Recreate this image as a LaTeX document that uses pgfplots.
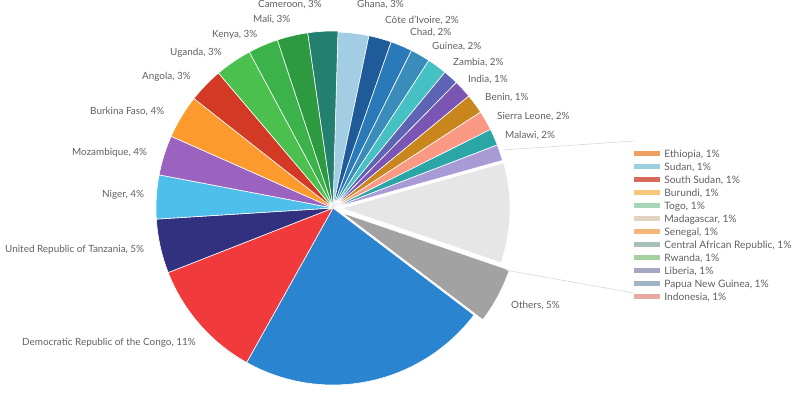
\documentclass[border=0pt]{standalone}
\usepackage{pgfplots}
\pgfplotsset{compat=1.18}
\usepackage{pgfplotstable}
\usepackage{fontspec}
\setmainfont{Lato}

\definecolor{col0}{HTML}{A3CDE2}
\definecolor{col1}{HTML}{1F5A99}
\definecolor{col2}{HTML}{2A7AB9}
\definecolor{col3}{HTML}{3A8DBA}
\definecolor{col4}{HTML}{45C1C3}
\definecolor{col5}{HTML}{5D63B5}
\definecolor{col6}{HTML}{7B55B3}
\definecolor{col7}{HTML}{C8861D}
\definecolor{col8}{HTML}{F99883}
\definecolor{col9}{HTML}{2AA6A6}
\definecolor{col10}{HTML}{A89AD5}
\definecolor{col11}{HTML}{E6E6E6}
\definecolor{col12}{HTML}{A2A2A2}
\definecolor{col13}{HTML}{2B84CF}
\definecolor{col14}{HTML}{F03A3C}
\definecolor{col15}{HTML}{31317F}
\definecolor{col16}{HTML}{4DBFEA}
\definecolor{col17}{HTML}{9B62C0}
\definecolor{col18}{HTML}{FD9A2E}
\definecolor{col19}{HTML}{D33A26}
\definecolor{col20}{HTML}{4BC04E}
\definecolor{col21}{HTML}{3CB34A}
\definecolor{col22}{HTML}{2E9A40}
\definecolor{col23}{HTML}{23806E}

\definecolor{lg0}{HTML}{F0A060}
\definecolor{lg1}{HTML}{9DCFE0}
\definecolor{lg2}{HTML}{D9695A}
\definecolor{lg3}{HTML}{F5C77A}
\definecolor{lg4}{HTML}{A8D4B8}
\definecolor{lg5}{HTML}{E0D4C0}
\definecolor{lg6}{HTML}{F3B878}
\definecolor{lg7}{HTML}{A9C0B9}
\definecolor{lg8}{HTML}{A6D0A0}
\definecolor{lg9}{HTML}{A4A8C4}
\definecolor{lg10}{HTML}{A0B4C4}
\definecolor{lg11}{HTML}{E8A8A4}
\definecolor{labgray}{HTML}{606060}

% share of each slice (percent), explode offset (px), radius (px), clockwise from 12 o'clock
\pgfplotstableread{
val expl rad
2.833 0 176
2.083 0 176
2.000 0 176
1.806 0 176
1.806 0 176
1.389 0 176
1.667 0 176
1.806 0 176
1.806 0 176
1.528 0 176
1.472 0 176
9.611 9 168
5.083 10 177
22.778 0 177
10.944 0 177
4.944 0 177
4.000 0 177
3.639 0 177
3.972 0 177
3.194 0 177
3.361 0 177
2.750 0 177
2.806 0 177
2.722 0 177
}\piedata

\def\PScum{1.6}
\pgfplotsforeachungrouped \i in {0,...,23}{%
  \pgfplotstablegetelem{\i}{val}\of\piedata \let\PSv\pgfplotsretval
  \pgfplotstablegetelem{\i}{expl}\of\piedata \let\PSe\pgfplotsretval
  \pgfplotstablegetelem{\i}{rad}\of\piedata \let\PSrr\pgfplotsretval
  \pgfmathsetmacro\PSa{\PScum}%
  \pgfmathsetmacro\PSd{3.6*\PSv}%
  \pgfmathsetmacro\PSmid{\PSa+\PSd/2}%
  \pgfmathsetmacro\PSx{333+\PSe*sin(\PSmid)}%
  \pgfmathsetmacro\PSy{192+\PSe*cos(\PSmid)}%
  \expandafter\xdef\csname PSa\i\endcsname{\PSa}%
  \expandafter\xdef\csname PSd\i\endcsname{\PSd}%
  \expandafter\xdef\csname PSx\i\endcsname{\PSx}%
  \expandafter\xdef\csname PSy\i\endcsname{\PSy}%
  \expandafter\xdef\csname PSr\i\endcsname{\PSrr}%
  \pgfmathsetmacro\PScum{\PSa+\PSd}%
  \xdef\PScum{\PScum}%
}

\newcommand\lab{\fontsize{9.9}{11}\selectfont\color{labgray}}

\begin{document}
\begin{tikzpicture}
\begin{axis}[name=ax,
  scale only axis, width=800pt, height=400pt,
  xmin=0, xmax=800, ymin=0, ymax=400,
  hide axis, clip=false,
  legend style={at={(axis cs:634,249.5)}, anchor=north west, draw=none, fill=none,
    inner sep=0pt, outer sep=0pt,
    font=\fontsize{10.2}{11}\selectfont, text=labgray,
    column sep=5pt, row sep=3.8pt,
    nodes={inner sep=0pt, text height=7pt, text depth=2pt}},
  legend cell align=left,
  legend image code/.code={\fill[#1] (0pt,0pt) rectangle (25pt,4.5pt);},
]
\pgfplotsinvokeforeach{0,...,23}{%
  \edef\PSplot{\noexpand\addplot[fill=col#1, draw=white, line width=0.6pt, forget plot,
    samples at={-1,0,1,...,40,41}, variable=\noexpand\t]
    ({\csname PSx#1\endcsname+\csname PSr#1\endcsname*(\noexpand\t>=0)*(\noexpand\t<=40)*sin(\csname PSa#1\endcsname+\csname PSd#1\endcsname*min(max(\noexpand\t,0),40)/40)},
     {\csname PSy#1\endcsname+\csname PSr#1\endcsname*(\noexpand\t>=0)*(\noexpand\t<=40)*cos(\csname PSa#1\endcsname+\csname PSd#1\endcsname*min(max(\noexpand\t,0),40)/40)});}%
  \PSplot
}
% connector lines to the legend
\addplot[forget plot, color=black!15, line width=0.6pt] coordinates {(503,250) (634,259)};
\addplot[forget plot, color=black!15, line width=0.6pt] coordinates {(505,130) (634,107)};

\addlegendimage{lg0}\addlegendentry{Ethiopia, 1\%}
\addlegendimage{lg1}\addlegendentry{Sudan, 1\%}
\addlegendimage{lg2}\addlegendentry{South Sudan, 1\%}
\addlegendimage{lg3}\addlegendentry{Burundi, 1\%}
\addlegendimage{lg4}\addlegendentry{Togo, 1\%}
\addlegendimage{lg5}\addlegendentry{Madagascar, 1\%}
\addlegendimage{lg6}\addlegendentry{Senegal, 1\%}
\addlegendimage{lg7}\addlegendentry{Central African Republic, 1\%}
\addlegendimage{lg8}\addlegendentry{Rwanda, 1\%}
\addlegendimage{lg9}\addlegendentry{Liberia, 1\%}
\addlegendimage{lg10}\addlegendentry{Papua New Guinea, 1\%}
\addlegendimage{lg11}\addlegendentry{Indonesia, 1\%}

\begin{scope}[every node/.style={anchor=west, inner sep=0pt, font=\lab}]
\node at (axis cs:258,395) {Cameroon, 3\%};
\node at (axis cs:357,395) {Ghana, 3\%};
\node at (axis cs:253,380) {Mali, 3\%};
\node at (axis cs:385,380) {Côte d'Ivoire, 2\%};
\node at (axis cs:212,365) {Kenya, 3\%};
\node at (axis cs:410,367) {Chad, 2\%};
\node at (axis cs:432,353) {Guinea, 2\%};
\node at (axis cs:170,347) {Uganda, 3\%};
\node at (axis cs:453,337) {Zambia, 2\%};
\node at (axis cs:468,320) {India, 1\%};
\node at (axis cs:142,323) {Angola, 3\%};
\node at (axis cs:485,302) {Benin, 1\%};
\node at (axis cs:90,288) {Burkina Faso, 4\%};
\node at (axis cs:497,283) {Sierra Leone, 2\%};
\node at (axis cs:505,264) {Malawi, 2\%};
\node at (axis cs:72,247) {Mozambique, 4\%};
\node at (axis cs:102,205) {Niger, 4\%};
\node at (axis cs:5,150) {United Republic of Tanzania, 5\%};
\node at (axis cs:22,57) {Democratic Republic of the Congo, 11\%};
\node at (axis cs:511,94) {Others, 5\%};
\end{scope}
\end{axis}
\pgfresetboundingbox
\path (ax.south west) rectangle (ax.north east);
\end{tikzpicture}
\end{document}
